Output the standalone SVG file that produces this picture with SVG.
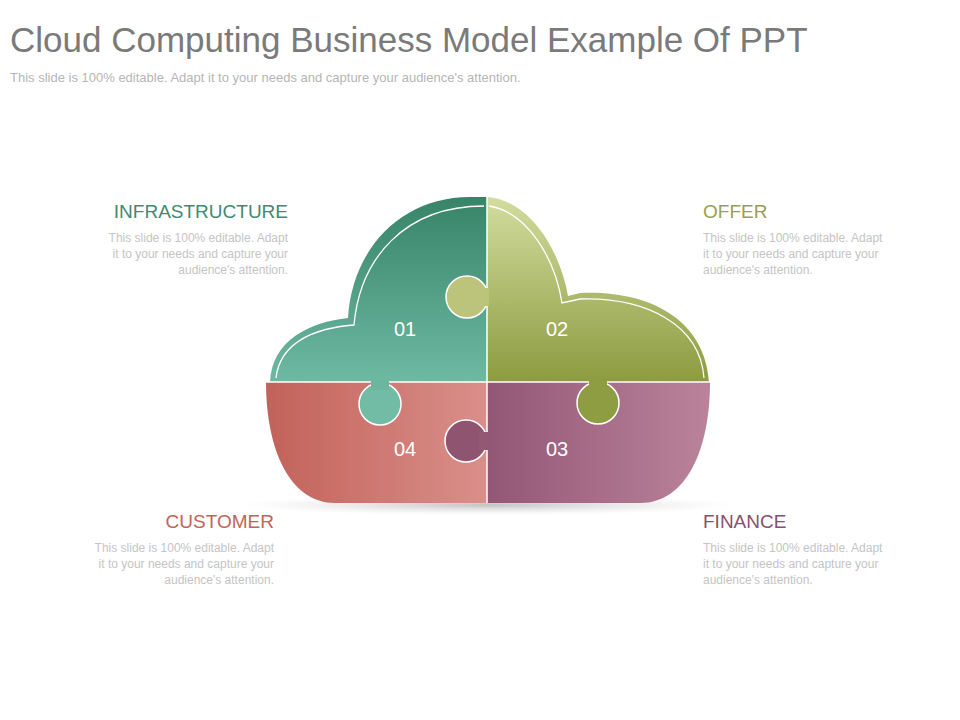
<svg xmlns="http://www.w3.org/2000/svg" width="960" height="720" viewBox="0 0 960 720">
<defs>
<linearGradient id="g1" x1="0" y1="0" x2="0" y2="1"><stop offset="0" stop-color="#378469"/><stop offset="1" stop-color="#6eb9a2"/></linearGradient>
<linearGradient id="g2" x1="0" y1="0" x2="0" y2="1"><stop offset="0" stop-color="#d2dc9e"/><stop offset="1" stop-color="#8d9b40"/></linearGradient>
<linearGradient id="g4" x1="0" y1="0" x2="1" y2="0"><stop offset="0" stop-color="#c2625a"/><stop offset="1" stop-color="#da8f8a"/></linearGradient>
<linearGradient id="g3" x1="0" y1="0" x2="1" y2="0"><stop offset="0" stop-color="#935776"/><stop offset="1" stop-color="#bb839b"/></linearGradient>
<radialGradient id="sh"><stop offset="0" stop-color="#bbb" stop-opacity="0.9"/><stop offset="1" stop-color="#ddd" stop-opacity="0"/></radialGradient>
</defs>
<style>
.t{font-family:"Liberation Sans",Arial,sans-serif}
.d{font-family:"Liberation Sans",Arial,sans-serif;font-size:12px;fill:#c4c4c4}
.h{font-family:"Liberation Sans",Arial,sans-serif;font-size:19px}
.n{font-family:"Liberation Sans",Arial,sans-serif;font-size:20px;fill:#fff}
.w{fill:none;stroke:#fff;stroke-width:1.3}
</style>
<rect width="960" height="720" fill="#fff"/>
<text class="t" x="10" y="52" font-size="35" fill="#7a7a7a">Cloud Computing Business Model Example Of PPT</text>
<text class="t" x="10" y="82" font-size="13" fill="#b5b5b5">This slide is 100% editable. Adapt it to your needs and capture your audience's attention.</text>
<ellipse cx="488" cy="505" rx="250" ry="10" fill="url(#sh)"/>
<g id="cloud">
<g id="p01"><path d="M270,382 C272,340 310,322 348,318 C352,250 400,197 470,197 L487,197 L487,382 Z" fill="url(#g1)"/><path class="w" d="M276,378 C280,342 315,328 354,325 C360,258 405,206 484,206"/></g>
<g id="p02"><path d="M487,197 C530,200 560,250 568,296 L580,293 C650,290 705,320 709,382 L487,382 Z" fill="url(#g2)"/><path class="w" d="M489,206 C527,212 555,258 562,303 L580,299 C645,297 700,324 704,378"/></g>
<g id="p04"><path d="M266,382 L487,382 L487,503 L335,503 C290,503 266,450 266,382 Z" fill="url(#g4)"/></g>
<g id="p03"><path d="M487,382 L710,382 C710,450 686,503 640,503 L487,503 Z" fill="url(#g3)"/></g>
<path d="M487,197 V503 M266,382 H710" stroke="#fff" stroke-width="1.5" fill="none"/>
<g id="tabs" stroke="#fff" stroke-width="1.5">
<circle cx="467" cy="297" r="21" fill="#bcc47c"/><rect x="480" y="288" width="9" height="18" fill="#bcc47c" stroke="none"/>
<circle cx="380" cy="404" r="21" fill="#72bba5"/><rect x="371" y="380" width="18" height="10" fill="#6cb69f" stroke="none"/>
<circle cx="598" cy="403" r="21" fill="#8e9c42"/><rect x="589" y="380" width="18" height="10" fill="#8e9c42" stroke="none"/>
<circle cx="466" cy="441" r="21" fill="#8f5570"/><rect x="479" y="432" width="9" height="18" fill="#925874" stroke="none"/>
</g>
<text class="n" x="405" y="336" text-anchor="middle">01</text>
<text class="n" x="557" y="336" text-anchor="middle">02</text>
<text class="n" x="557" y="456" text-anchor="middle">03</text>
<text class="n" x="405" y="456" text-anchor="middle">04</text>
</g>
<g id="infra" text-anchor="end"><text class="h" x="288" y="218" fill="#3f8a73">INFRASTRUCTURE</text>
<text class="d" x="288" y="242">This slide is 100% editable. Adapt</text><text class="d" x="288" y="258">it to your needs and capture your</text><text class="d" x="288" y="274">audience's attention.</text></g>
<g id="offer"><text class="h" x="703" y="218" fill="#9aa050">OFFER</text>
<text class="d" x="703" y="242">This slide is 100% editable. Adapt</text><text class="d" x="703" y="258">it to your needs and capture your</text><text class="d" x="703" y="274">audience's attention.</text></g>
<g id="customer" text-anchor="end"><text class="h" x="274" y="528" fill="#c0645a">CUSTOMER</text>
<text class="d" x="274" y="552">This slide is 100% editable. Adapt</text><text class="d" x="274" y="568">it to your needs and capture your</text><text class="d" x="274" y="584">audience's attention.</text></g>
<g id="finance"><text class="h" x="703" y="528" fill="#8a4f6e">FINANCE</text>
<text class="d" x="703" y="552">This slide is 100% editable. Adapt</text><text class="d" x="703" y="568">it to your needs and capture your</text><text class="d" x="703" y="584">audience's attention.</text></g>
</svg>
